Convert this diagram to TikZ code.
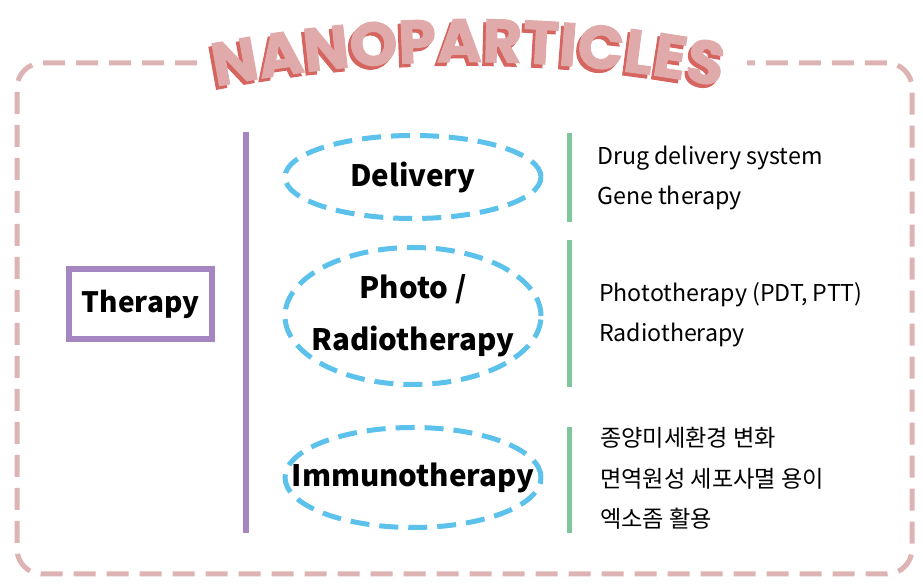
\documentclass[tikz,border=0pt]{standalone}
\usepackage{fontspec}
\setmainfont{Noto Sans CJK KR}
\newfontfamily\titlefont[BoldFeatures={FakeBold=1.6}]{Poppins}
\usetikzlibrary{decorations.text}
\definecolor{figborder}{RGB}{221,179,179}
\definecolor{figtitle}{RGB}{224,170,170}
\definecolor{figshadow}{RGB}{214,100,95}
\definecolor{figpurple}{RGB}{165,134,192}
\definecolor{figblue}{RGB}{92,194,236}
\definecolor{figgreen}{RGB}{126,198,156}
\tikzset{
  frame/.style ={draw=figborder, line width=5pt, dash pattern=on 22pt off 11pt, rounded corners=25pt},
  oval/.style  ={draw=figblue, line width=5pt, dash pattern=on 19pt off 10pt},
  bar/.style   ={line width=6pt, line cap=butt},
  head/.style  ={font=\bfseries\fontsize{29.5}{52}\selectfont, align=center, inner sep=0pt},
  item/.style  ={font=\fontsize{23.2}{26}\selectfont, anchor=base west, inner sep=0pt},
}
\begin{document}
\begin{tikzpicture}[x=1pt,y=1pt]
  \useasboundingbox (0,0) rectangle (923,588);
  % outer frame, open under the title
  \draw[frame] (197,525) -- (17,525) -- (17,14) -- (912,14) -- (912,525) -- (747,525);
  % title with shadow
  \path[decorate, decoration={text along path, text align=center,
    text={|\titlefont\bfseries\fontsize{61}{61}\selectfont\color{figshadow}|NANOPARTICLES}}]
    (128.5,478.2) arc[start angle=105, end angle=75, radius=1300];
  \path[decorate, decoration={text along path, text align=center,
    text={|\titlefont\bfseries\fontsize{61}{61}\selectfont\color{figtitle}|NANOPARTICLES}}]
    (131.5,481.7) arc[start angle=105, end angle=75, radius=1300];
  % left box
  \node[draw=figpurple, line width=6pt, minimum width=143pt, minimum height=70pt,
    font=\bfseries\fontsize{28}{30}\selectfont] (therapy) at (140.5,284) {Therapy};
  \coordinate (ptop) at (246,456);
  \coordinate (pbot) at (246,55);
  \draw[bar, figpurple] (ptop) -- (pbot);
  % categories
  \node[head] (delivery) at (413,411) {Delivery};
  \draw[oval] (delivery.center) ellipse[x radius=128, y radius=41.5];
  \node[head] (photo) at (413,272) {Photo /\\Radiotherapy};
  \draw[oval] (photo.center) ellipse[x radius=128, y radius=68.5];
  \node[head] (immuno) at (413,110.5) {Immunotherapy};
  \draw[oval] (immuno.center) ellipse[x radius=128, y radius=50];
  % green bars
  \coordinate (g1top) at (569,455);
  \coordinate (g1bot) at (569,366);
  \coordinate (g2top) at (569,348);
  \coordinate (g2bot) at (569,201);
  \coordinate (g3top) at (569,161);
  \coordinate (g3bot) at (569,55);
  \draw[bar, figgreen, line width=5pt] (g1top) -- (g1bot);
  \draw[bar, figgreen, line width=5pt] (g2top) -- (g2bot);
  \draw[bar, figgreen, line width=5pt] (g3top) -- (g3bot);
  % lists
  \node[item] (drug) at (597,423) {Drug delivery system};
  \node[item] (gene) at (597,383) {Gene therapy};
  \node[item] (phototx) at (599,286) {Phototherapy (PDT, PTT)};
  \node[item] (radiotx) at (599,246) {Radiotherapy};
  \node[item] (tme) at (600,141) {종양미세환경 변화};
  \node[item] (icd) at (600,100) {면역원성 세포사멸 용이};
  \node[item] (exo) at (600,60) {엑소좀 활용};
\end{tikzpicture}
\end{document}
